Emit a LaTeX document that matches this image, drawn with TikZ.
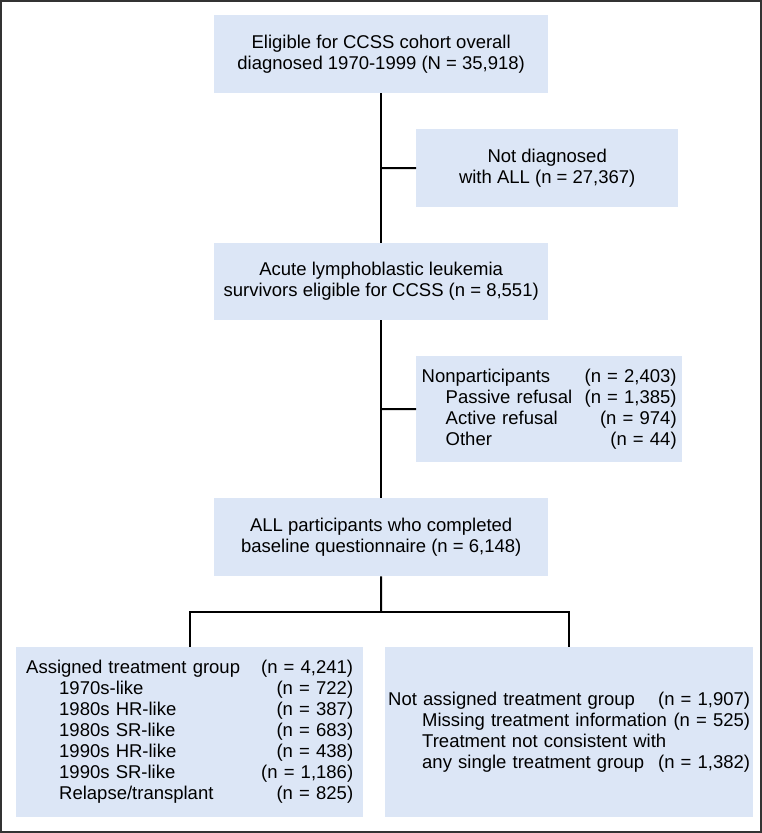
\documentclass[tikz,border=0pt]{standalone}
\usepackage{fontspec}
\setmainfont{Liberation Sans}
\definecolor{boxblue}{RGB}{220,230,246}
\tikzset{
  box/.style={fill=boxblue, inner sep=0pt, anchor=north west,
    font=\fontsize{18.5}{21}\selectfont},
  link/.style={line width=2pt},
}
\begin{document}
\begin{tikzpicture}[x=1pt,y=-1pt]
      \useasboundingbox (0,0) rectangle (762,833);
      \draw[line width=1.2pt, black!80] (1,1) rectangle (761,832);
      \node[box, minimum width=334pt, minimum height=78pt, align=center]
        (elig) at (214,15) {Eligible for CCSS cohort overall\\diagnosed 1970-1999 (N = 35,918)};
      \node[box, minimum width=262pt, minimum height=78pt, align=center]
        (notall) at (416,129) {Not diagnosed\\with ALL (n = 27,367)};
      \node[box, minimum width=334pt, minimum height=77pt, align=center]
        (surv) at (214,243) {Acute lymphoblastic leukemia\\survivors eligible for CCSS (n = 8,551)};
      \node[box, minimum width=266pt, minimum height=106pt, text width=255pt, align=left]
        (nonpart) at (416,356) {Nonparticipants\hfill(n = 2,403)\\
          \hspace*{24pt}Passive refusal\hfill(n = 1,385)\\
          \hspace*{24pt}Active refusal\hfill(n = 974)\\
          \hspace*{24pt}Other\hfill(n = 44)};
      \node[box, minimum width=334pt, minimum height=78pt, align=center]
        (part) at (214,498) {ALL participants who completed\\baseline questionnaire (n = 6,148)};
      \node[box, minimum width=347pt, minimum height=170pt, text width=327pt, align=left]
        (assign) at (16,647) {Assigned treatment group\hfill(n = 4,241)\\
          \hspace*{33pt}1970s-like\hfill(n = 722)\\
          \hspace*{33pt}1980s HR-like\hfill(n = 387)\\
          \hspace*{33pt}1980s SR-like\hfill(n = 683)\\
          \hspace*{33pt}1990s HR-like\hfill(n = 438)\\
          \hspace*{33pt}1990s SR-like\hfill(n = 1,186)\\
          \hspace*{33pt}Relapse/transplant\hfill(n = 825)};
      \node[box, minimum width=368pt, minimum height=170pt, text width=362pt, align=left]
        (notassign) at (385,647) {Not assigned treatment group\hfill(n = 1,907)\\
          \hspace*{34pt}Missing treatment information\hfill(n = 525)\\
          \hspace*{34pt}Treatment not consistent with\\
          \hspace*{34pt}any single treatment group\hfill(n = 1,382)};
      \coordinate (j1) at (381,168);
      \coordinate (j2) at (381,409);
      \coordinate (j3) at (381,612);
      \begin{scope}[link]
        \draw (elig.south) -- (surv.north);
        \draw (j1) -- (notall.west);
        \draw (surv.south) -- (part.north);
        \draw (j2) -- (nonpart.west);
        \draw (part.south) -- (j3);
        \draw (assign.north) |- (j3) -| (notassign.north);
      \end{scope}
    \end{tikzpicture}
\end{document}
